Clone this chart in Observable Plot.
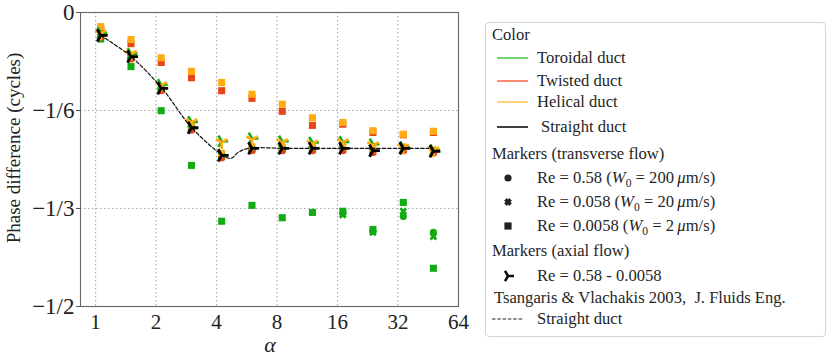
<!DOCTYPE html>
<html><head><meta charset="utf-8">
<script src="https://cdn.jsdelivr.net/npm/d3@7"></script>
<script src="https://cdn.jsdelivr.net/npm/@observablehq/plot@0.6"></script>
<style>
body{margin:0;background:#fff;}
#wrap{position:relative;width:831px;height:359px;font-family:"Liberation Serif","Tinos","Times New Roman","DejaVu Serif",serif;color:#222;overflow:hidden;}
#chart{position:absolute;left:0;top:0;}
#legend{position:absolute;left:485px;top:22px;width:341px;height:315px;box-sizing:border-box;border:1px solid #d4d4d4;border-radius:4px;background:#fff;font-size:16.6px;color:#262626;}
.row{position:absolute;height:20px;line-height:20px;white-space:nowrap;}
.row sub{font-size:0.7em;line-height:0;}
#ylab{position:absolute;left:14px;top:148px;transform:translate(-50%,-50%) rotate(-90deg);white-space:nowrap;font-size:19px;}
#xlab{position:absolute;left:270px;top:345px;transform:translate(-50%,-50%);font-size:22px;font-style:italic;}
</style></head><body>
<div id="wrap"><div id="chart"></div><div id="legend"></div><div id="ylab">Phase difference (cycles)</div><div id="xlab">α</div></div>
<script>
// ---------- data ----------
const alpha = [1.06, 1.5, 2.12, 3, 4.24, 6, 8.49, 12, 17, 24, 34, 48];
// axial flow (tri markers)
const straightAxial = [-0.039, -0.075, -0.129, -0.196, -0.243, -0.231, -0.231, -0.231, -0.231, -0.235, -0.231, -0.236];
const helicalAxial  = [-0.036, -0.071, -0.124, -0.187, -0.221, -0.216, -0.221, -0.223, -0.221, -0.226, -0.230, -0.235];
const toroidalAxial = [-0.035, -0.070, -0.123, -0.186, -0.219, -0.214, -0.219, -0.221, -0.220, -0.224, -0.229, -0.234];
// transverse flow, Re = 0.0058 (squares)
const helicalSquare  = [-0.024, -0.046, -0.077, -0.100, -0.119, -0.139, -0.156, -0.179, -0.187, -0.201, -0.207, -0.202];
const twistedSquare  = [-0.027, -0.053, -0.085, -0.111, -0.133, -0.146, -0.168, -0.192, -0.190, -0.204, -0.208, -0.204];
const toroidalSquare = [-0.045, -0.092, -0.167, -0.260, -0.355, -0.328, -0.349, -0.340, -0.338, -0.369, -0.323, -0.435];
// transverse flow, Re = 0.58 (circles)
const helicalCircle  = [-0.038, -0.073, -0.127, -0.193, -0.240, -0.229, -0.229, -0.229, -0.229, -0.232, -0.229, -0.234];
const twistedCircle  = [-0.042, -0.079, -0.133, -0.200, -0.247, -0.235, -0.235, -0.235, -0.235, -0.238, -0.235, -0.239];
const toroidalCircle = [-0.043, -0.077, -0.130, -0.197, -0.245, -0.233, -0.233, -0.233, -0.342, -0.372, -0.347, -0.374];
// transverse flow, Re = 0.058 (crosses)
const helicalCross  = [-0.037, -0.072, -0.126, -0.192, -0.239, -0.228, -0.228, -0.228, -0.228, -0.231, -0.228, -0.233];
const twistedCross  = [-0.041, -0.078, -0.132, -0.199, -0.246, -0.234, -0.234, -0.234, -0.234, -0.237, -0.234, -0.238];
const toroidalCross = [-0.042, -0.076, -0.130, -0.196, -0.244, -0.232, -0.232, -0.232, -0.344, -0.374, -0.338, -0.381];
// Tsangaris & Vlachakis 2003 straight duct
const tsAlpha = [1.06, 1.5, 2.14, 3.01, 4.3, 4.72, 5.12, 5.74, 8.6, 12.2, 17.3, 24.4, 34.5, 45.5];
const tsPhase = [-0.039, -0.075, -0.129, -0.196, -0.243, -0.248, -0.238, -0.231, -0.231, -0.231, -0.231, -0.231, -0.231, -0.231];
// axes
const xTicks = [1, 2, 4, 8, 16, 32, 64];
const yTicks = [0, -1/6, -1/3, -1/2];
const yTickLabels = ["0", "−1/6", "−1/3", "−1/2"];
// legend
const ductNames = ["Toroidal duct", "Twisted duct", "Helical duct", "Straight duct"];
const reLabels = ["Re = 0.58 (<i>W</i><sub>0</sub> = 200&#8201;<i>μ</i>m/s)", "Re = 0.058 (<i>W</i><sub>0</sub> = 20&#8201;<i>μ</i>m/s)", "Re = 0.0058 (<i>W</i><sub>0</sub> = 2&#8201;<i>μ</i>m/s)"];

// ---------- styles ----------
const FONT = "'Liberation Serif', 'Tinos', 'Times New Roman', 'DejaVu Serif', serif";
const C = {tor: "#13ab13", twi: "#e9451b", hel: "#ffab12"};
const legendLine = ["#4fcb4f", "#ff6e4f", "#ffc75a", "#111"];

function tri(angles) {
  return {draw(ctx, size) {
    const r = Math.sqrt(size / Math.PI);
    for (const a of angles) { ctx.moveTo(0, 0); ctx.lineTo(r * Math.cos(a), r * Math.sin(a)); }
  }};
}
const d = Math.PI / 180;
const triRight = tri([0, 120 * d, -120 * d]);
const triY = tri([-150 * d, -30 * d, 90 * d]);
const triY2 = tri([-120 * d, 0, 120 * d]);
const xFilled = {draw(ctx, size) {
  const r = Math.sqrt(size / Math.PI) * 1.15, w = r * 0.33;
  const pts = [[-w,-r],[w,-r],[w,-w],[r,-w],[r,w],[w,w],[w,r],[-w,r],[-w,w],[-r,w],[-r,-w],[-w,-w]]
    .map(([x, y]) => [(x - y) / Math.SQRT2, (x + y) / Math.SQRT2]);
  ctx.moveTo(pts[0][0], pts[0][1]);
  for (const p of pts.slice(1)) ctx.lineTo(p[0], p[1]);
  ctx.closePath();
}};

const pts = (ys) => alpha.map((a, i) => ({a, v: ys[i]}));
const ts = tsAlpha.map((a, i) => ({a, v: tsPhase[i]}));

const chart = Plot.plot({
  width: 480, height: 359,
  marginLeft: 80, marginRight: 22, marginTop: 12, marginBottom: 53,
  style: {fontFamily: FONT, fontSize: "20px", color: "#222", background: "white"},
  x: {type: "log", base: 2, domain: [Math.pow(2, -0.25), 64]},
  y: {domain: [-0.5, 0]},
  marks: [
    Plot.gridX(xTicks.slice(0, -1), {stroke: "#aaa", strokeOpacity: 1, strokeDasharray: "1.5,2.5", strokeWidth: 1.1}),
    Plot.gridY(yTicks.slice(1, 3), {stroke: "#aaa", strokeOpacity: 1, strokeDasharray: "1.5,2.5", strokeWidth: 1.1}),
    Plot.axisX(xTicks, {tickSize: 0, tickPadding: 8, fontSize: 21, label: null, tickFormat: (t) => String(t)}),
    Plot.axisY(yTicks, {tickSize: 4, tickPadding: 2, fontSize: 23, label: null, stroke: "#555",
      tickFormat: (t) => yTickLabels[yTicks.indexOf(t)]}),
    // squares (Re = 0.0058)
    Plot.dot(pts(toroidalSquare), {x: "a", y: "v", symbol: "square", r: 4, fill: C.tor}),
    Plot.dot(pts(twistedSquare), {x: "a", y: "v", symbol: "square", r: 4, fill: C.twi}),
    Plot.dot(pts(helicalSquare), {x: "a", y: "v", symbol: "square", r: 4, fill: C.hel}),
    // circles (Re = 0.58)
    Plot.dot(pts(toroidalCircle), {x: "a", y: "v", r: 3.6, fill: C.tor}),
    Plot.dot(pts(twistedCircle), {x: "a", y: "v", r: 3.6, fill: C.twi}),
    Plot.dot(pts(helicalCircle), {x: "a", y: "v", r: 3.6, fill: C.hel}),
    // crosses (Re = 0.058)
    Plot.dot(pts(toroidalCross), {x: "a", y: "v", symbol: xFilled, r: 3.6, fill: C.tor}),
    Plot.dot(pts(twistedCross), {x: "a", y: "v", symbol: xFilled, r: 3.6, fill: C.twi}),
    Plot.dot(pts(helicalCross), {x: "a", y: "v", symbol: xFilled, r: 3.6, fill: C.hel}),
    // axial flow tri markers
    Plot.dot(pts(toroidalAxial), {x: "a", y: "v", symbol: triY2, r: 6.5, fill: "none", stroke: C.tor, strokeWidth: 2.6}),
    Plot.dot(pts(helicalAxial), {x: "a", y: "v", symbol: triY, r: 6.5, fill: "none", stroke: C.hel, strokeWidth: 2.6}),
    // Tsangaris straight duct
    Plot.line(ts, {x: "a", y: "v", curve: "catmull-rom", stroke: "#111", strokeWidth: 1.2, strokeDasharray: "3.5,2"}),
    Plot.dot(pts(straightAxial), {x: "a", y: "v", symbol: triRight, r: 7, fill: "none", stroke: "#000", strokeWidth: 2.8}),
    Plot.frame({stroke: "#666", strokeWidth: 1.1})
  ]
});
document.getElementById("chart").appendChild(chart);

// ---------- legend ----------
const L = document.getElementById("legend");
function row(top, left, html, extra) {
  const r = document.createElement("div");
  r.className = "row"; r.style.top = (top - 10) + "px"; r.style.left = left + "px"; r.innerHTML = html;
  if (extra) Object.assign(r.style, extra);
  L.appendChild(r); return r;
}
function glyph(top, svgInner, w = 16) {
  const s = `<svg width="${w}" height="16" viewBox="${-w/2} -8 ${w} 16" style="display:block">${svgInner}</svg>`;
  row(top, 22 - w / 2, s, {height: "16px", lineHeight: "0", top: (top - 8) + "px"});
}
row(12, 6, "Color");
const ductTops = [35, 58, 79, 104];
ductNames.forEach((n, i) => {
  row(ductTops[i], 11, `<svg width="31" height="4" style="display:block"><line x1="0" x2="31" y1="2" y2="2" stroke="${legendLine[i]}" stroke-width="1.6"/></svg>`, {height: "4px", top: (ductTops[i] - 2) + "px"});
  row(ductTops[i], i === 3 ? 55 : 51, n);
});
row(131, 6, "Markers (transverse flow)");
const reTops = [155, 179, 203];
glyph(155, `<circle r="3.6" fill="#222"/>`);
glyph(179, `<path d="M-1.2,-3.9L0,-2.4L1.2,-3.9L3.9,-1.2L2.4,0L3.9,1.2L1.2,3.9L0,2.4L-1.2,3.9L-3.9,1.2L-2.4,0L-3.9,-1.2Z" fill="#222"/>`);
glyph(203, `<rect x="-3.6" y="-3.6" width="7.2" height="7.2" fill="#222"/>`);
reLabels.forEach((t, i) => row(reTops[i], 51, t));
row(228, 6, "Markers (axial flow)");
glyph(253, `<path d="M0,0L6,0M0,0L-3,5.2M0,0L-3,-5.2" stroke="#111" stroke-width="2.6" fill="none"/>`);
row(253, 51, "Re = 0.58 - 0.0058");
row(275, 8, "Tsangaris &amp; Vlachakis 2003,&nbsp; J. Fluids Eng.");
row(296, 6, `<svg width="32" height="4" style="display:block"><line x1="0" x2="32" y1="2" y2="2" stroke="#222" stroke-width="1.2" stroke-dasharray="3.5,1.8"/></svg>`, {height: "4px", top: "294px"});
row(296, 51, "Straight duct");
</script>
</body></html>
